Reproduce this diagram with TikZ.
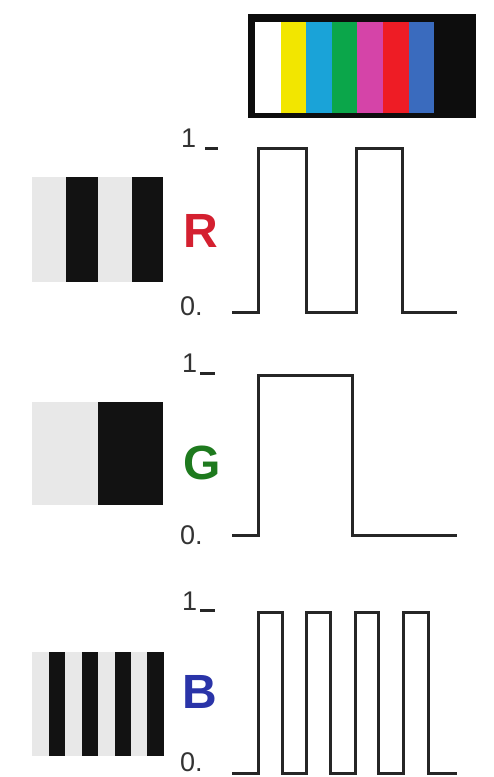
\documentclass[tikz,border=0pt]{standalone}
\usepackage{fontspec}
\setmainfont{Liberation Sans}
\usetikzlibrary{positioning}
\definecolor{barYellow}{HTML}{F2E600}
\definecolor{barCyan}{HTML}{1AA3D8}
\definecolor{barGreen}{HTML}{0BA64A}
\definecolor{barMagenta}{HTML}{D544A8}
\definecolor{barRed}{HTML}{EE1C25}
\definecolor{barBlue}{HTML}{3A6BBE}
\definecolor{stripeGray}{HTML}{E8E8E8}
\definecolor{chanR}{HTML}{D42030}
\definecolor{chanG}{HTML}{1E7A1E}
\definecolor{chanB}{HTML}{2A34A8}
\tikzset{
    wave/.style={line width=3pt, black!85, line join=miter},
    tick_label/.style={font=\fontsize{27}{27}\selectfont, text=black!80, inner sep=0pt},
    chan_label/.style={font=\fontsize{48}{48}\selectfont\bfseries, inner sep=0pt},
    level_tick/.style={line width=3pt, black!85}
}
\begin{document}
\begin{tikzpicture}[x=1pt, y=-1pt]
            \useasboundingbox[fill=white] (0,0) rectangle (494,777);

            % Colour bar
            \fill[black!95] (248,14) rectangle (476,118);
            \foreach \c [count=\i from 0] in {white, barYellow, barCyan, barGreen, barMagenta, barRed, barBlue}
                \fill[\c] (255+25.6*\i,22) rectangle (255+25.6*\i+25.6,113);

            % Stripe patterns
            \fill[stripeGray] (32,177) rectangle (163,282);
            \fill[black!93] (66,177) rectangle (98,282);
            \fill[black!93] (132,177) rectangle (163,282);

            \fill[stripeGray] (32,402) rectangle (163,505);
            \fill[black!93] (98,402) rectangle (163,505);

            \fill[stripeGray] (32,652) rectangle (163,756);
            \foreach \k in {0,1,2,3}
                \fill[black!93] (49+32.8*\k,652) rectangle (65.4+32.8*\k,756);

            % Channel labels
            \node[chan_label, text=chanR] (labR) at (201,231) {R};
            \node[chan_label, text=chanG] (labG) at (202,463) {G};
            \node[chan_label, text=chanB] (labB) at (200,692) {B};

            % Level labels
            \node[tick_label, anchor=base west] (oneR) at (181,147) {1};
            \node[tick_label, anchor=base west] (zeroR) at (180,315) {0.};
            \draw[level_tick] (205,148) -- (218,148);

            \node[tick_label, anchor=base west] (oneG) at (182,372) {1};
            \node[tick_label, anchor=base west] (zeroG) at (180,544) {0.};
            \draw[level_tick] (200,373) -- (215,373);

            \node[tick_label, anchor=base west] (oneB) at (182,610) {1};
            \node[tick_label, anchor=base west] (zeroB) at (180,771) {0.};
            \draw[level_tick] (200,610) -- (215,610);

            % Waveforms
            \draw[wave] (232,312) -- (258,312) -- (258,148) -- (306,148) -- (306,312)
                -- (356,312) -- (356,148) -- (402,148) -- (402,312) -- (457,312);
            \draw[wave] (232,535) -- (258,535) -- (258,375) -- (352,375) -- (352,535) -- (457,535);
            \draw[wave] (232,773) -- (258,773) -- (258,612) -- (282,612) -- (282,773)
                -- (306,773) -- (306,612) -- (330,612) -- (330,773)
                -- (355,773) -- (355,612) -- (378,612) -- (378,773)
                -- (403,773) -- (403,612) -- (428,612) -- (428,773) -- (457,773);
\end{tikzpicture}
\end{document}
